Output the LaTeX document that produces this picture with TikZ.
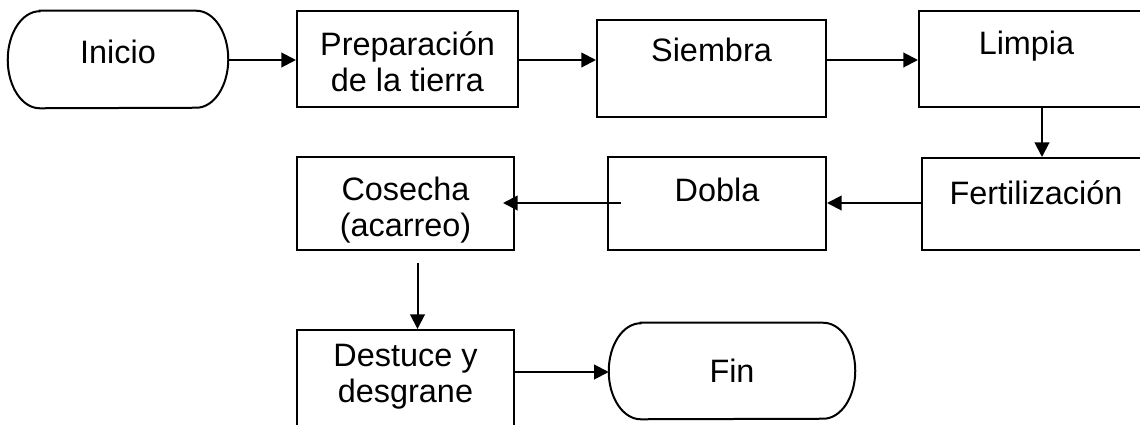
\documentclass[tikz,border=0pt]{standalone}
\usepackage{fontspec}
\setmainfont{Liberation Sans}
\usetikzlibrary{arrows.meta,calc}
\newcommand\mybox[5]{\node[box,minimum width={(#4-#2)*0.75pt},minimum height={(#5-#3)*0.75pt}] (#1) at ({(#2+#4)/2},{(#3+#5)/2}) {};}
\newcommand\myterm[5]{\node[termbox,minimum width={(#4-#2)*0.75pt},minimum height={(#5-#3)*0.75pt}] (#1) at ({(#2+#4)/2},{(#3+#5)/2}) {};
\draw[termline] ($(#1.north west)+(32,0)$) -- ($(#1.north east)+(-32,0)$)
  arc[start angle=90,end angle=-90,x radius=24pt,y radius={(#5-#3)*0.375pt}]
  -- ($(#1.south west)+(32,0)$)
  arc[start angle=270,end angle=90,x radius=24pt,y radius={(#5-#3)*0.375pt}] -- cycle;}
\begin{document}
\begin{tikzpicture}[x=0.75pt,y=-0.75pt,
  box/.style={draw,line width=1.5pt,inner sep=0pt},
  termbox/.style={inner sep=0pt},
  termline/.style={line width=1.5pt},
  txt/.style={anchor=base,align=center,inner sep=0pt,font=\fontsize{24.3}{26.5}\selectfont},
  arr/.style={line width=1.5pt,-{Triangle[length=11pt,width=11pt]}}]
\useasboundingbox (0,0) rectangle (1140,425);
\fill[white] (0,0) rectangle (1140,425);
% shapes
\myterm{inicio}{8}{11}{228}{108}
\mybox{prep}{297}{11}{518}{107}
\mybox{siembra}{597}{20}{826}{117}
\mybox{limpia}{919}{11}{1146}{107}
\mybox{fert}{922}{158}{1146}{250}
\mybox{dobla}{608}{157}{826}{250}
\mybox{cosecha}{297}{157}{514}{250}
\mybox{destuce}{297}{330}{514}{440}
\myterm{fin}{609}{323}{855}{419}
% texts
\node[txt] (tinicio) at ($(inicio.center)+(0,4)$) {Inicio};
\node[txt] (tprep) at ($(prep.north)+(0,81)$) {Preparación\\de la tierra};
\node[txt] (tsiembra) at ($(siembra.north)+(0,42)$) {Siembra};
\node[txt] (tlimpia) at ($(limpia.north)+(-6,44)$) {Limpia};
\node[txt] (tfert) at ($(fert.north)+(2,47)$) {Fertilización};
\node[txt] (tdobla) at ($(dobla.north)+(0,45)$) {Dobla};
\node[txt] (tcosecha) at ($(cosecha.north)+(0,80)$) {Cosecha\\(acarreo)};
\node[txt] (tdestuce) at ($(destuce.north)+(0,73)$) {Destuce y\\desgrane};
\node[txt] (tfin) at ($(fin.center)+(0,11)$) {Fin};
% connectors
\coordinate (r1) at (0,60);
\draw[arr] (inicio.east |- r1) -- (prep.west |- r1);
\draw[arr] (prep.east |- r1) -- (siembra.west |- r1);
\draw[arr] (siembra.east |- r1) -- (limpia.west |- r1);
\coordinate (c1) at (1042,0);
\draw[arr] (limpia.south -| c1) -- (fert.north -| c1);
\coordinate (r2) at (0,203);
\draw[arr] (fert.west |- r2) -- (dobla.east |- r2);
\coordinate (dstart) at ($(dobla.west |- r2)+(14,0)$);
\coordinate (cend) at ($(cosecha.east |- r2)+(-12,0)$);
\draw[arr] (dstart) -- (cend);
\coordinate (cstart) at ($(cosecha.south)+(12,12)$);
\draw[arr] (cstart) -- (destuce.north -| cstart);
\coordinate (r3) at (0,372);
\draw[arr] (destuce.east |- r3) -- (fin.west |- r3);
\end{tikzpicture}
\end{document}
